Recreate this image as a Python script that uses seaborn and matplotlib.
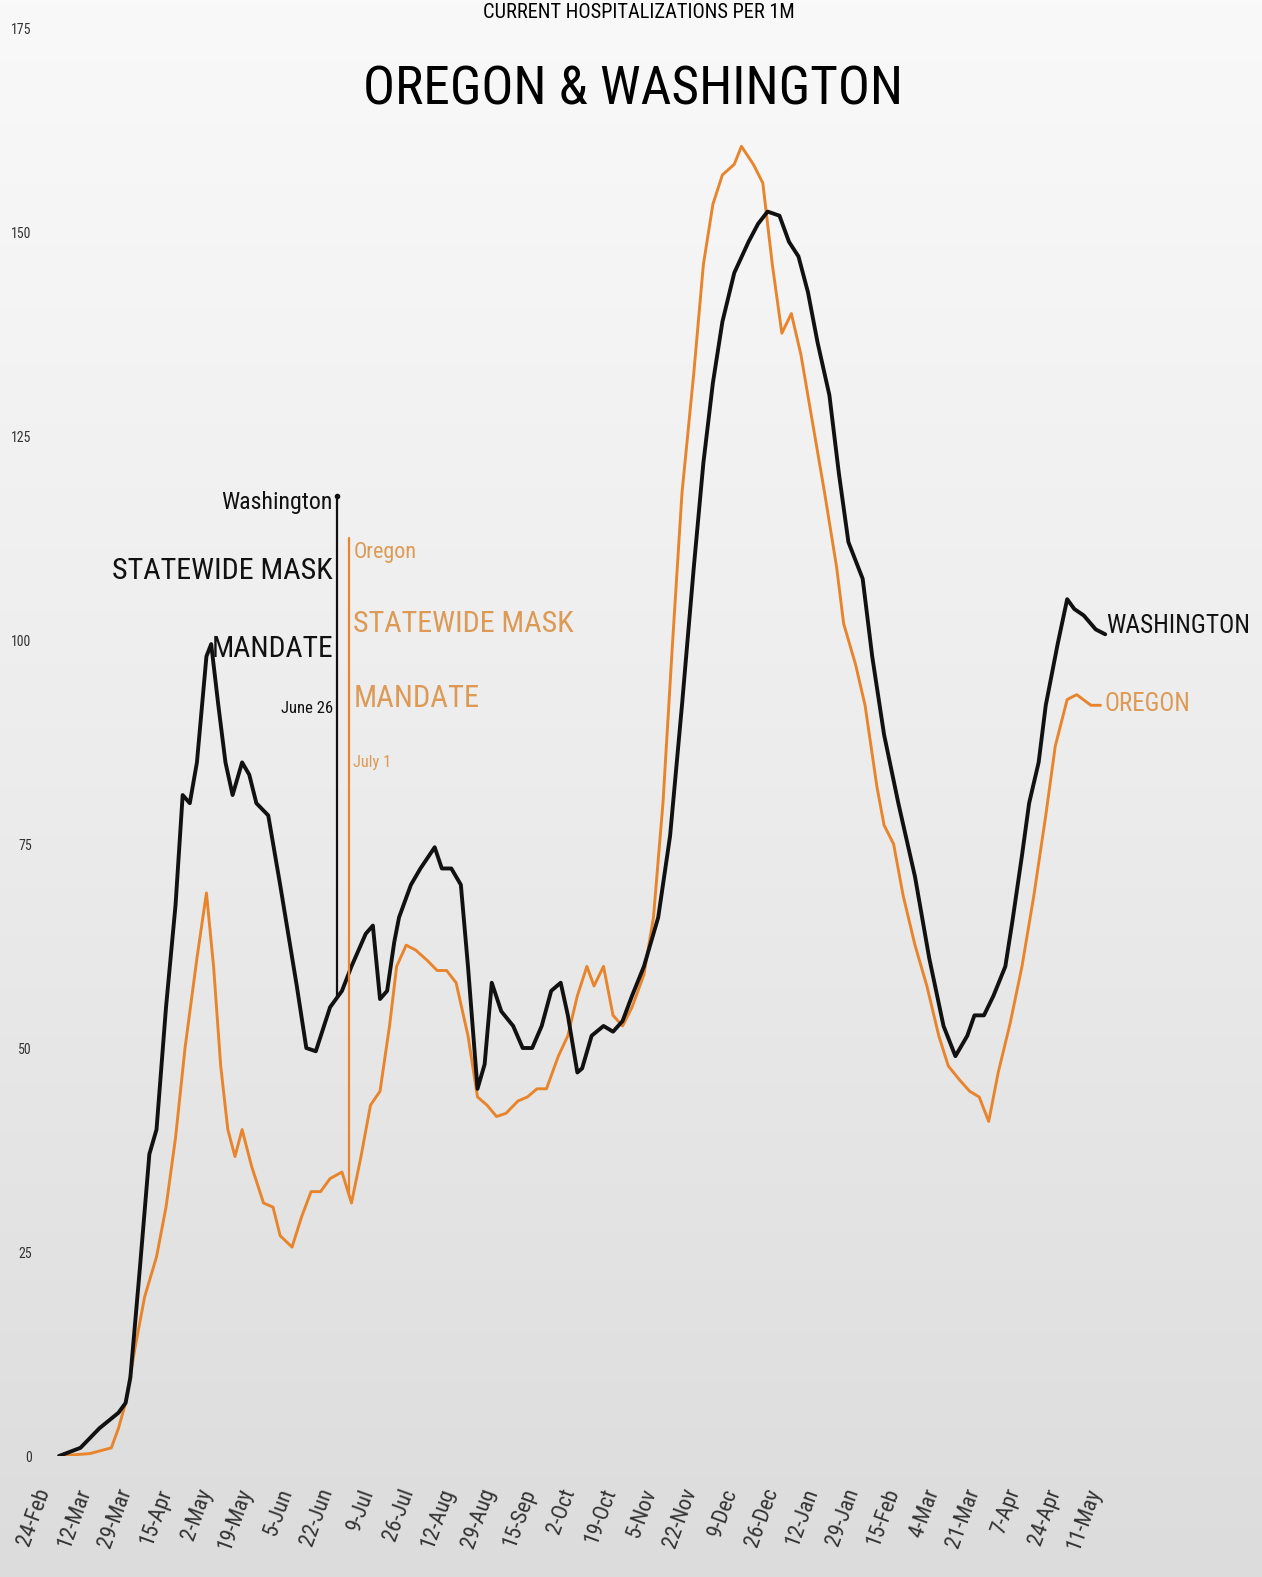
import numpy as np
import pandas as pd
import matplotlib
matplotlib.use("Agg")
import matplotlib.pyplot as plt
import matplotlib.dates as mdates
from matplotlib.colors import LinearSegmentedColormap
from matplotlib import font_manager
import seaborn as sns

# Washington, current hospitalizations per 1M
wa_dates = ["2020-03-01", "2020-03-10", "2020-03-18", "2020-03-26", "2020-03-29", "2020-03-31",
            "2020-04-04", "2020-04-08", "2020-04-11", "2020-04-15", "2020-04-19", "2020-04-22",
            "2020-04-25", "2020-04-28", "2020-05-02", "2020-05-04", "2020-05-07", "2020-05-10",
            "2020-05-13", "2020-05-17", "2020-05-20", "2020-05-23", "2020-05-28", "2020-06-02",
            "2020-06-09", "2020-06-13", "2020-06-17", "2020-06-23", "2020-06-28", "2020-07-02",
            "2020-07-08", "2020-07-11", "2020-07-14", "2020-07-17", "2020-07-20", "2020-07-22",
            "2020-07-27", "2020-07-31", "2020-08-06", "2020-08-09", "2020-08-13", "2020-08-15",
            "2020-08-17", "2020-08-20", "2020-08-24", "2020-08-27", "2020-08-30", "2020-09-03",
            "2020-09-08", "2020-09-12", "2020-09-16", "2020-09-20", "2020-09-24", "2020-09-28",
            "2020-10-01", "2020-10-05", "2020-10-07", "2020-10-11", "2020-10-16", "2020-10-20",
            "2020-10-24", "2020-10-28", "2020-11-02", "2020-11-08", "2020-11-13", "2020-11-18",
            "2020-11-23", "2020-11-27", "2020-12-01", "2020-12-05", "2020-12-10", "2020-12-16",
            "2020-12-20", "2020-12-24", "2020-12-29", "2021-01-02", "2021-01-06", "2021-01-10",
            "2021-01-14", "2021-01-19", "2021-01-23", "2021-01-27", "2021-02-02", "2021-02-06",
            "2021-02-11", "2021-02-17", "2021-02-24", "2021-03-02", "2021-03-08", "2021-03-13",
            "2021-03-18", "2021-03-21", "2021-03-25", "2021-03-29", "2021-04-03", "2021-04-06",
            "2021-04-10", "2021-04-13", "2021-04-17", "2021-04-20", "2021-04-25", "2021-04-29",
            "2021-05-02", "2021-05-06", "2021-05-11", "2021-05-15"]
wa_values = [0, 1, 3.4, 5.3, 6.5, 9.6,
             23, 37, 40, 55, 67.5, 81,
             80, 85, 98, 99.5, 92, 85,
             81, 85, 83.5, 80, 78.5, 70,
             57.6, 50, 49.6, 55, 57, 60,
             64, 65, 56, 57, 63, 66,
             70, 72, 74.6, 72, 72, 71,
             70, 60, 45, 48, 58, 54.5,
             52.7, 50, 50, 52.7, 57, 58,
             54, 47, 47.5, 51.5, 52.7, 52,
             53.3, 56.4, 60, 66, 76, 92,
             109, 121.7, 131.5, 139, 145, 148.8,
             151, 152.5, 152, 148.8, 147, 142.6,
             136.5, 130, 120.4, 112, 107.5, 98,
             88.4, 80, 71, 61, 52.7, 49,
             51.5, 54, 54, 56.4, 60, 65.6,
             73.6, 80, 85, 92, 99.5, 105,
             103.8, 103, 101.3, 100.7]

# Oregon, current hospitalizations per 1M
or_dates = ["2020-03-01", "2020-03-14", "2020-03-23", "2020-03-26", "2020-03-29", "2020-04-02",
            "2020-04-06", "2020-04-11", "2020-04-15", "2020-04-19", "2020-04-23", "2020-04-28",
            "2020-05-02", "2020-05-05", "2020-05-08", "2020-05-11", "2020-05-14", "2020-05-17",
            "2020-05-21", "2020-05-26", "2020-05-30", "2020-06-02", "2020-06-07", "2020-06-11",
            "2020-06-15", "2020-06-19", "2020-06-23", "2020-06-28", "2020-07-02", "2020-07-06",
            "2020-07-10", "2020-07-14", "2020-07-18", "2020-07-21", "2020-07-25", "2020-07-29",
            "2020-08-03", "2020-08-07", "2020-08-11", "2020-08-15", "2020-08-20", "2020-08-24",
            "2020-08-28", "2020-09-01", "2020-09-05", "2020-09-10", "2020-09-14", "2020-09-18",
            "2020-09-22", "2020-09-27", "2020-10-01", "2020-10-05", "2020-10-09", "2020-10-12",
            "2020-10-16", "2020-10-20", "2020-10-24", "2020-10-28", "2020-11-02", "2020-11-06",
            "2020-11-10", "2020-11-14", "2020-11-18", "2020-11-23", "2020-11-27", "2020-12-01",
            "2020-12-05", "2020-12-10", "2020-12-13", "2020-12-18", "2020-12-22", "2020-12-26",
            "2020-12-30", "2021-01-03", "2021-01-07", "2021-01-12", "2021-01-17", "2021-01-22",
            "2021-01-25", "2021-01-30", "2021-02-03", "2021-02-08", "2021-02-11", "2021-02-15",
            "2021-02-19", "2021-02-24", "2021-03-01", "2021-03-06", "2021-03-10", "2021-03-15",
            "2021-03-19", "2021-03-23", "2021-03-27", "2021-03-31", "2021-04-05", "2021-04-10",
            "2021-04-15", "2021-04-20", "2021-04-24", "2021-04-29", "2021-05-03", "2021-05-09",
            "2021-05-13"]
or_values = [0, 0.3, 1, 3.4, 6.5, 13.3,
             19.5, 24.4, 30.5, 39, 50, 61,
             69, 60, 47.8, 40, 36.7, 40,
             35.5, 31, 30.5, 27, 25.6, 29.3,
             32.4, 32.4, 34, 34.8, 31, 36.7,
             43, 44.7, 52.7, 60, 62.6, 62,
             60.7, 59.5, 59.5, 58, 51.5, 44,
             43, 41.6, 42, 43.5, 44, 45,
             45, 49, 51.5, 56.4, 60, 57.6,
             60, 54, 52.7, 55, 59, 66,
             80, 99.5, 118, 132.8, 146, 153.4,
             157, 158.3, 160.5, 158.3, 156, 146,
             137.6, 140, 135, 126.5, 118, 109,
             102, 97, 92, 82, 77.3, 75,
             68.7, 62.6, 57.6, 51.5, 47.8, 46,
             44.7, 44, 41, 47, 53, 60,
             68.7, 78.5, 87, 92.7, 93.3, 92,
             92]

tick_dates = pd.date_range("2020-02-24", periods=27, freq="17D")
y_ticks = [0, 25, 50, 75, 100, 125, 150, 175]

wa_mandate = pd.Timestamp("2020-06-26")
or_mandate = pd.Timestamp("2020-07-01")

BLACK = "#111111"
ORANGE = "#E8852C"
ORANGE_TXT = "#DC9A55"

sns.set_theme(style="white")

# prefer a narrow face, the original uses a condensed font
fm = font_manager.fontManager
narrow_file = None
for want in ["Liberation Sans Narrow", "Roboto Condensed", "Open Sans Condensed",
             "DejaVu Sans Condensed", "Noto Sans Condensed"]:
    for f in fm.ttflist:
        if f.name == want and f.style == "normal" and f.weight in (400, "normal", "regular"):
            narrow_file = f.fname
            break
    if narrow_file:
        break
if narrow_file is None:
    for f in fm.ttflist:
        if f.stretch in ("condensed", "semi-condensed") and f.style == "normal" \
                and f.weight in (400, "normal", "regular") and "Mono" not in f.name:
            narrow_file = f.fname
            break
names = {f.name for f in fm.ttflist}
base = "Liberation Sans" if "Liberation Sans" in names else "DejaVu Sans"
plt.rcParams["font.family"] = [base, "DejaVu Sans"]
if narrow_file:
    FP = font_manager.FontProperties(fname=narrow_file)
else:
    FP = font_manager.FontProperties(family=[base, "DejaVu Sans"])

wa = pd.DataFrame({"date": pd.to_datetime(wa_dates), "value": wa_values})
orr = pd.DataFrame({"date": pd.to_datetime(or_dates), "value": or_values})

fig = plt.figure(figsize=(12.62, 15.77), dpi=100)
renderer = fig.canvas.get_renderer()

# soft grey background gradient
bg = fig.add_axes([0, 0, 1, 1], zorder=0)
grad = np.linspace(0, 1, 256).reshape(-1, 1)
cmap = LinearSegmentedColormap.from_list("bg", ["#f9f9f9", "#ececec", "#dcdcdc"])
bg.imshow(grad, aspect="auto", cmap=cmap, extent=[0, 1, 0, 1], origin="upper")
bg.axis("off")

W, H = 1262, 1577
ax = fig.add_axes([40 / W, (H - 1456) / H, 1215 / W, (1456 - 28) / H], zorder=1)
ax.set_facecolor("none")

sns.lineplot(data=orr, x="date", y="value", ax=ax, color=ORANGE, linewidth=2.1)
sns.lineplot(data=wa, x="date", y="value", ax=ax, color=BLACK, linewidth=2.8)

ax.set_xlim(pd.Timestamp("2020-02-22"), pd.Timestamp("2021-07-17"))
ax.set_ylim(0, 175)
ax.set_xticks(tick_dates)
ax.xaxis.set_major_formatter(mdates.DateFormatter("%-d-%b"))
ax.set_yticks(y_ticks)
ax.tick_params(axis="y", length=0, pad=6, labelcolor="#333333")
ax.tick_params(axis="x", length=0, pad=24, labelcolor="#333333")
for lab in ax.get_xticklabels() + ax.get_yticklabels():
    lab.set_fontproperties(FP)
for lab in ax.get_yticklabels():
    lab.set_fontsize(10)
for lab in ax.get_xticklabels():
    lab.set_fontsize(16)
    lab.set_rotation(70)
    lab.set_ha("right")
    lab.set_va("center")
    lab.set_rotation_mode("anchor")
ax.set_xlabel("")
ax.set_ylabel("")
sns.despine(ax=ax, left=True, bottom=True)

# mask mandate markers
wa_at = np.interp(mdates.date2num(wa_mandate), mdates.date2num(wa["date"]), wa["value"])
or_at = np.interp(mdates.date2num(or_mandate), mdates.date2num(orr["date"]), orr["value"])
ax.plot([wa_mandate, wa_mandate], [wa_at, 117.7], color=BLACK, lw=1.6)
ax.plot([wa_mandate], [117.7], marker="o", ms=3, color=BLACK)
ax.plot([or_mandate, or_mandate], [or_at, 112.5], color=ORANGE, lw=1.6)


def fit(t, width_px):
    # scale font so the text spans the same width as in the original
    t.set_fontproperties(FP)
    t.set_fontsize(20)
    w = t.get_window_extent(renderer).width
    t.set_fontsize(20 * width_px / w)
    return t


def note(x, y, s, width_px, color, ha, dx):
    t = ax.annotate(s, xy=(x, y), xytext=(dx, 0), textcoords="offset points",
                    ha=ha, va="center", color=color)
    fit(t, width_px)


note(wa_mandate, 116.8, "Washington", 111, BLACK, "right", -3)
note(wa_mandate, 108.5, "STATEWIDE MASK", 221, BLACK, "right", -3)
note(wa_mandate, 98.9, "MANDATE", 121, BLACK, "right", -3)
note(wa_mandate, 91.6, "June 26", 52, BLACK, "right", -3)

note(or_mandate, 110.7, "Oregon", 63, ORANGE_TXT, "left", 3)
note(or_mandate, 102, "STATEWIDE MASK", 221, ORANGE_TXT, "left", 3)
note(or_mandate, 92.8, "MANDATE", 126, ORANGE_TXT, "left", 3)
note(or_mandate, 85, "July 1", 38, ORANGE_TXT, "left", 3)

note(wa["date"].iloc[-1], 101.7, "WASHINGTON", 144, BLACK, "left", 1)
note(orr["date"].iloc[-1], 92.2, "OREGON", 86, ORANGE_TXT, "left", 3)

fit(fig.text(633 / W, 1 - 90 / H, "OREGON & WASHINGTON", color="#000000",
             ha="center", va="center"), 540)
fit(fig.text(639 / W, 1 - 3 / H, "CURRENT HOSPITALIZATIONS PER 1M",
             color="#000000", ha="center", va="top"), 312)

fig.savefig("out.png", dpi=100)
